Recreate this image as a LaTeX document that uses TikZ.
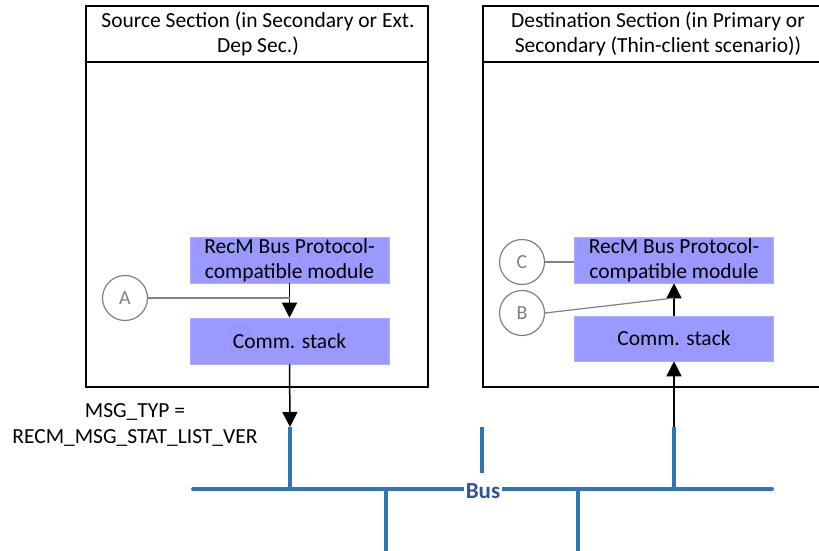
\documentclass[tikz,border=0pt]{standalone}
\usepackage{fontspec}
\setmainfont{Carlito}
\usetikzlibrary{arrows.meta}
\definecolor{modfill}{RGB}{153,153,255}
\definecolor{busblue}{RGB}{46,117,182}
\definecolor{buslabel}{RGB}{47,85,151}
\definecolor{circgray}{RGB}{128,128,128}
\tikzset{
  section/.style={draw=black, line width=1.5pt},
  module/.style={fill=modfill, draw=modfill!80!white, line width=0.6pt, minimum width=199pt, align=center, font=\fontsize{21.5}{25}\selectfont, inner sep=0pt},
  marker/.style={circle, draw=circgray, line width=1.2pt, minimum size=45pt, inner sep=0pt, text=circgray, font=\fontsize{20}{22}\selectfont},
  markline/.style={draw=circgray, line width=1.2pt},
  flow/.style={draw=black, line width=1.5pt, -{Triangle[width=15pt,length=15pt]}},
  bus/.style={draw=busblue, line width=4pt},
  hdr/.style={align=center, font=\fontsize{21.5}{25}\selectfont},
}
\begin{document}
\begin{tikzpicture}[x=1pt,y=-1pt]
\useasboundingbox (0,0) rectangle (819,551);
\clip (0,0) rectangle (819,551);
% sections
\draw[section] (86,6) rectangle (428,387);
\draw[section] (86,62) -- (428,62);
\node[hdr] (srchdr) at (258,34) {Source Section (in Secondary or Ext.\\Dep Sec.)};
\draw[section] (483,6) rectangle (833,387);
\draw[section] (483,62) -- (833,62);
\node[hdr] (dsthdr) at (658,34) {Destination Section (in Primary or\\Secondary (Thin-client scenario))};
% modules
\node[module, minimum height=46pt] (lmod) at (289.5,260) {RecM Bus Protocol-\\compatible module};
\node[module, minimum height=46pt] (lcomm) at (289.5,341) {Comm. stack};
\node[module, minimum height=46pt] (rmod) at (674,260) {RecM Bus Protocol-\\compatible module};
\node[module, minimum height=45pt] (rcomm) at (674,338.5) {Comm. stack};
% bus
\coordinate (bl) at (193,489);
\coordinate (br) at (772,489);
\coordinate (s1) at (290,427);
\coordinate (s1b) at (290,489);
\coordinate (s2) at (482,427);
\coordinate (s2b) at (482,473);
\coordinate (s3) at (674,427);
\coordinate (s3b) at (674,489);
\coordinate (d1) at (386,489);
\coordinate (d1b) at (386,560);
\coordinate (d2) at (578,489);
\coordinate (d2b) at (578,560);
\draw[bus, line cap=round] (bl) -- (br);
\draw[bus] (s1) -- (s1b);
\draw[bus] (s2) -- (s2b);
\draw[bus] (s3) -- (s3b);
\draw[bus] (d1) -- (d1b);
\draw[bus] (d2) -- (d2b);
\node[fill=white, inner sep=1.5pt, text=buslabel, font=\fontsize{23}{26}\selectfont\bfseries] (buslbl) at (483,491) {Bus};
% flows
\draw[flow] (lmod.south) -- (lcomm.north);
\draw[flow] (lcomm.south) -- (s1);
\draw[flow] (rcomm.north) -- (rmod.south);
\draw[flow] (s3) -- (rcomm.south);
% markers
\node[marker] (A) at (125,298) {A};
\node[marker] (B) at (522,313) {B};
\node[marker] (C) at (522,262) {C};
\coordinate (ahit) at (289.5,298);
\coordinate (bhit) at (674,298);
\draw[markline] (A.east) -- (ahit);
\draw[markline] (B.east) -- (bhit);
\draw[markline] (C.east) -- (rmod.west |- C.east);
% message label
\node[align=center, font=\fontsize{21.5}{26}\selectfont, inner sep=0pt] (msg) at (135,425) {MSG\_TYP =\\RECM\_MSG\_STAT\_LIST\_VER};
\end{tikzpicture}
\end{document}
